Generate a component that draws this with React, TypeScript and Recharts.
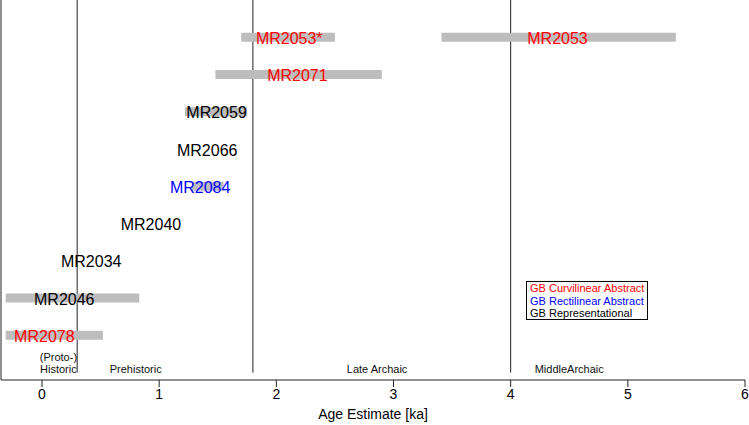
import { ScatterChart, Scatter, XAxis, YAxis, ErrorBar, ReferenceLine } from "recharts";

const FONT = "'Liberation Sans', Arial, sans-serif";

// samples, top to bottom
const sampleNames = ["MR2053*", "MR2053", "MR2071", "MR2059", "MR2066", "MR2084", "MR2040", "MR2034", "MR2046", "MR2078"];
const sampleRows = [9, 9, 8, 7, 6, 5, 4, 3, 2, 1];
const sampleAges = [2.11, 4.4, 2.18, 1.49, 1.41, 1.35, 0.93, 0.42, 0.19, 0.02];
const rangeLow = [1.7, 3.41, 1.48, 1.22, null, 1.28, null, null, -0.31, -0.31];
const rangeHigh = [2.5, 5.41, 2.9, 1.75, null, 1.55, null, null, 0.83, 0.52];
const sampleGroup = ["curv", "curv", "curv", "rep", "rep", "rect", "rep", "rep", "rep", "curv"];

const groupColors: Record<string, string> = { curv: "#ff0000", rect: "#0000ff", rep: "#000000" };

const boundaries = [0.3, 1.8, 4.0];
const periodText = ["(Proto-)", "Historic", "Prehistoric", "Late Archaic", "MiddleArchaic"];
const periodX = [0.14, 0.14, 0.8, 2.86, 4.5];
const periodY = [0.42, 0.1, 0.1, 0.1, 0.1];

const xTicks = [0, 1, 2, 3, 4, 5, 6];

const legendItems = [
  { label: "GB Curvilinear Abstract", color: "#ff0000" },
  { label: "GB Rectilinear Abstract", color: "#0000ff" },
  { label: "GB Representational", color: "#000000" },
];

const samples = sampleNames.map((name, i) => ({
  name,
  age: sampleAges[i],
  row: sampleRows[i],
  group: sampleGroup[i],
  err:
    rangeLow[i] == null
      ? [0, 0]
      : [sampleAges[i] - (rangeLow[i] as number), (rangeHigh[i] as number) - sampleAges[i]],
}));

const periods = periodText.map((text, i) => ({ text, age: periodX[i], row: periodY[i] }));

const SampleLabel = (props: any) => (
  <text
    x={props.cx}
    y={props.cy + 1}
    textAnchor="middle"
    dominantBaseline="central"
    fontSize={16}
    fontFamily={FONT}
    fill={groupColors[props.payload.group]}
  >
    {props.payload.name}
  </text>
);

const PeriodLabel = (props: any) => (
  <text
    x={props.cx}
    y={props.cy}
    textAnchor="middle"
    dominantBaseline="central"
    fontSize={11}
    fontFamily={FONT}
    fill="#111"
  >
    {props.payload.text}
  </text>
);

const Nothing = () => <g />;

export default function App() {
  return (
    <div style={{ position: "absolute", left: 0, top: 0, width: 749, height: 425, background: "#fff", fontFamily: FONT }}>
      <ScatterChart width={749} height={425} margin={{ top: 0, right: 4, left: 1, bottom: 0 }}>
        <XAxis
          type="number"
          dataKey="age"
          domain={[-0.35, 6]}
          ticks={xTicks}
          allowDataOverflow
          height={45}
          tickSize={7}
          stroke="#222"
          tick={{ fontSize: 14, fill: "#000", fontFamily: FONT }}
          label={{ value: "Age Estimate [ka]", position: "insideBottom", offset: 6, fontSize: 14, fill: "#000", fontFamily: FONT }}
        />
        <YAxis type="number" dataKey="row" domain={[-0.2, 10]} allowDataOverflow hide width={0} />

        <ReferenceLine x={-0.35} stroke="#222" />
        {boundaries.map((b) => (
          <ReferenceLine
            key={b}
            segment={[
              { x: b, y: 0 },
              { x: b, y: 10 },
            ]}
            stroke="#222"
          />
        ))}

        {/* grey age ranges first, labels drawn over them */}
        <Scatter data={samples} shape={Nothing} isAnimationActive={false}>
          <ErrorBar dataKey="err" direction="x" width={0} strokeWidth={9} stroke="#bdbdbd" />
        </Scatter>
        <Scatter data={samples} shape={SampleLabel} isAnimationActive={false} />
        <Scatter data={periods} shape={PeriodLabel} isAnimationActive={false} />
      </ScatterChart>

      <div
        style={{
          position: "absolute",
          left: 526,
          top: 281,
          width: 117,
          height: 37,
          border: "1px solid #000",
          fontSize: 11,
          lineHeight: "12.5px",
          padding: "0 0 0 3px",
        }}
      >
        {legendItems.map((it) => (
          <div key={it.label} style={{ color: it.color, whiteSpace: "nowrap" }}>
            {it.label}
          </div>
        ))}
      </div>
    </div>
  );
}
